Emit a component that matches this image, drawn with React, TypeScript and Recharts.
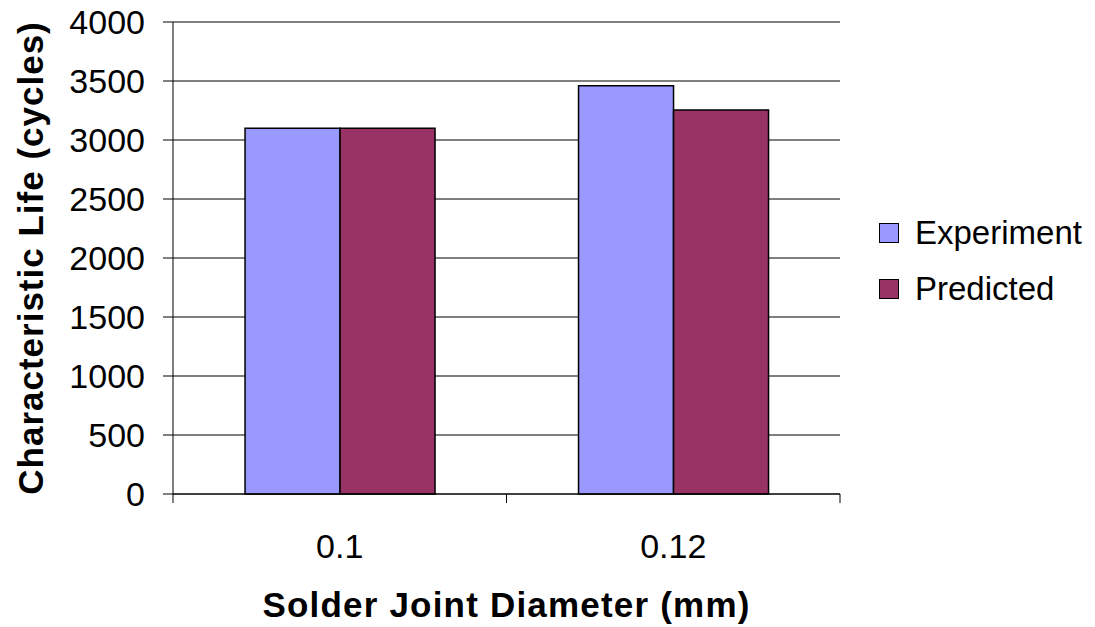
import { Bar, BarChart, CartesianGrid, Legend, XAxis, YAxis } from "recharts";

const diameters = ["0.1", "0.12"];
const experiment = [3100, 3460];
const predicted = [3100, 3255];
const lifeTicks = [0, 500, 1000, 1500, 2000, 2500, 3000, 3500, 4000];
const edgeTicks = [0, 1, 2];

const rows = diameters.map((d, i) => ({
  d,
  slot: i + 0.5,
  experiment: experiment[i],
  predicted: predicted[i],
}));

const FONT = '"Liberation Sans", Arial, sans-serif';

function YTitle({ viewBox }: any) {
  const cy = viewBox.y + viewBox.height / 2;
  return (
    <text
      x={30}
      y={cy}
      transform={`rotate(-90, 30, ${cy})`}
      textAnchor="middle"
      dominantBaseline="central"
      fontFamily={FONT}
      fontSize={35}
      fontWeight="bold"
      letterSpacing={1}
      fill="#000"
    >
      Characteristic Life (cycles)
    </text>
  );
}

function LegendBox({ payload }: any) {
  return (
    <div style={{ fontFamily: FONT, fontSize: 33, color: "#000" }}>
      {(payload || []).map((p: any) => (
        <div key={p.value} style={{ display: "flex", alignItems: "center", height: 56 }}>
          <span
            style={{
              width: 18,
              height: 18,
              background: p.color,
              border: "1.5px solid #000",
              marginRight: 16,
            }}
          />
          {p.value}
        </div>
      ))}
    </div>
  );
}

export default function App() {
  return (
    <div style={{ position: "absolute", left: 0, top: 0, width: 1095, height: 627, background: "#fff" }}>
      <BarChart
        width={1095}
        height={627}
        data={rows}
        margin={{ top: 22, right: 255, left: 0, bottom: 0 }}
        barCategoryGap="21.6%"
        barGap={0}
      >
        <CartesianGrid xAxisId="labels" vertical={false} stroke="#000" strokeWidth={1} />
        {/* axis line plus category boundary ticks */}
        <XAxis
          xAxisId="base"
          dataKey="slot"
          type="number"
          domain={[0, 2]}
          ticks={edgeTicks}
          allowDataOverflow
          height={1}
          axisLine={{ stroke: "#000" }}
          tickFormatter={() => ""}
          tickSize={9}
          tickLine={{ stroke: "#000" }}
        />
        <XAxis
          xAxisId="labels"
          dataKey="d"
          height={132}
          tickLine={false}
          tickSize={0}
          tickMargin={39}
          axisLine={false}
          tick={{ fill: "#000", fontSize: 34, fontFamily: FONT }}
          label={{
            value: "Solder Joint Diameter (mm)",
            position: "insideBottom",
            offset: 10,
            fill: "#000",
            fontSize: 35,
            fontWeight: "bold",
            fontFamily: FONT,
            letterSpacing: 1.2,
          }}
        />
        <YAxis
          width={173}
          domain={[0, 4000]}
          ticks={lifeTicks}
          interval={0}
          tickSize={10}
          tickMargin={18}
          axisLine={{ stroke: "#000" }}
          tickLine={{ stroke: "#000" }}
          tick={{ fill: "#000", fontSize: 34, fontFamily: FONT }}
          label={<YTitle />}
        />
        <Legend
          layout="horizontal"
          align="center"
          verticalAlign="middle"
          content={<LegendBox />}
          wrapperStyle={{ left: 879, top: 205, width: 216 }}
        />
        <Bar xAxisId="labels" dataKey="experiment" name="Experiment" fill="#9999FF" stroke="#000" strokeWidth={1.5} isAnimationActive={false} />
        <Bar xAxisId="labels" dataKey="predicted" name="Predicted" fill="#993366" stroke="#000" strokeWidth={1.5} isAnimationActive={false} />
      </BarChart>
    </div>
  );
}
